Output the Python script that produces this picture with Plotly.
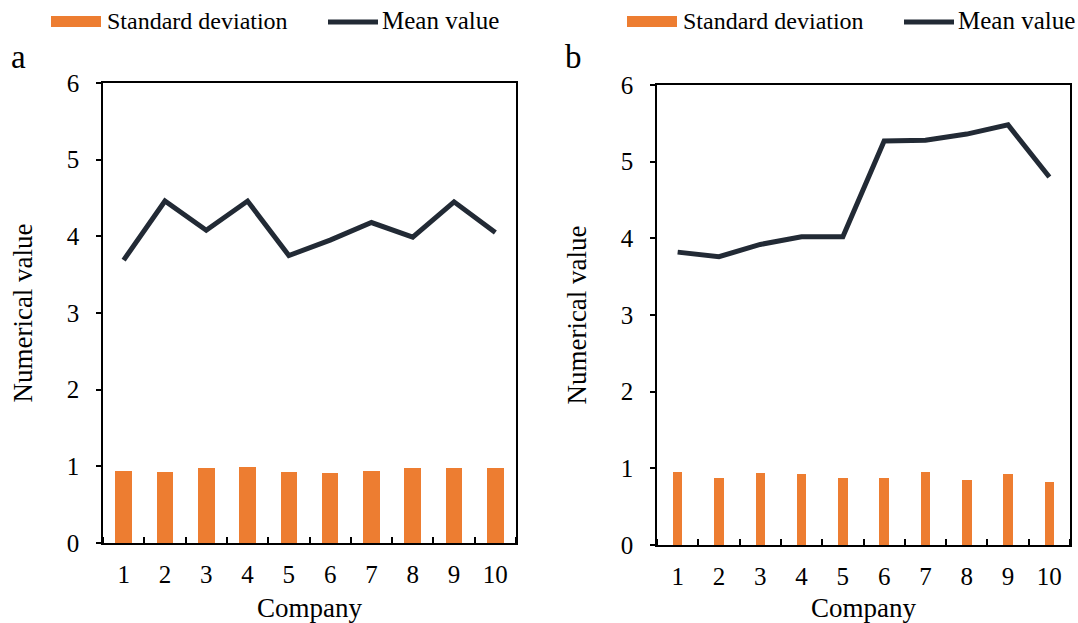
import plotly.graph_objects as go

companies = [1, 2, 3, 4, 5, 6, 7, 8, 9, 10]
tick_labels = ["1", "2", "3", "4", "5", "6", "7", "8", "9", "10"]
mean_a = [3.69, 4.46, 4.08, 4.46, 3.75, 3.95, 4.18, 3.99, 4.45, 4.05]
std_a = [0.94, 0.92, 0.98, 0.99, 0.93, 0.91, 0.94, 0.98, 0.98, 0.98]
mean_b = [3.82, 3.76, 3.92, 4.02, 4.02, 5.27, 5.28, 5.36, 5.48, 4.80]
std_b = [0.95, 0.87, 0.94, 0.92, 0.88, 0.87, 0.95, 0.85, 0.92, 0.82]

ORANGE = "#ED7D31"
NAVY = "#222A35"
FONT = "Liberation Serif"
W, H = 1078, 623

fig = go.Figure()
fig.add_trace(go.Bar(x=companies, y=std_a, width=0.4, marker_color=ORANGE,
                     marker_line_width=0, xaxis="x", yaxis="y", showlegend=False,
                     name="Standard deviation"))
fig.add_trace(go.Scatter(x=companies, y=mean_a, mode="lines",
                         line=dict(color=NAVY, width=5), xaxis="x", yaxis="y",
                         showlegend=False, name="Mean value"))
fig.add_trace(go.Bar(x=companies, y=std_b, width=0.23, marker_color=ORANGE,
                     marker_line_width=0, xaxis="x2", yaxis="y2", showlegend=False,
                     name="Standard deviation"))
fig.add_trace(go.Scatter(x=companies, y=mean_b, mode="lines",
                         line=dict(color=NAVY, width=5), xaxis="x2", yaxis="y2",
                         showlegend=False, name="Mean value"))

def px(x):
    return x / W

def py(y):
    return 1 - y / H

xcommon = dict(range=[0.5, 10.5], tickvals=companies, ticktext=tick_labels,
               ticks="", showline=True, linecolor="black", linewidth=1.5,
               mirror=True, showgrid=False, zeroline=False, automargin=False,
               ticklabelstandoff=8,
               tickfont=dict(family=FONT, size=25, color="black"),
               minor=dict(ticks="inside", tick0=0.5, dtick=1, ticklen=6,
                          tickcolor="black", tickwidth=1.5, showgrid=False),
               title=dict(text="Company", font=dict(family=FONT, size=27, color="black"), standoff=15))
ycommon = dict(range=[0, 6], dtick=1, ticks="outside", ticklen=5, tickwidth=1.5,
               tickcolor="black", showline=True, linecolor="black", linewidth=1.5,
               mirror=True, showgrid=False, zeroline=False, ticklabelstandoff=12,
               automargin=False,
               tickfont=dict(family=FONT, size=25, color="black"),
               title=dict(text="Numerical value", font=dict(family=FONT, size=27, color="black"), standoff=26))

fig.update_layout(
    width=W, height=H, margin=dict(l=0, r=0, t=0, b=0),
    plot_bgcolor="white", paper_bgcolor="white", bargap=0,
    xaxis=dict(domain=[px(103), px(516)], anchor="y", **xcommon),
    yaxis=dict(domain=[py(543), py(83)], anchor="x", **ycommon),
    xaxis2=dict(domain=[px(657), px(1070)], anchor="y2", **xcommon),
    yaxis2=dict(domain=[py(545), py(85)], anchor="x2", **ycommon),
)

shapes = []
annotations = []
for dx, lbl, lx, ly in [(0, "a", 18, 57), (576, "b", 573, 57)]:
    shapes.append(dict(type="rect", xref="paper", yref="paper",
                       x0=px(51 + dx), x1=px(101 + dx), y0=py(27), y1=py(16),
                       fillcolor=ORANGE, line_width=0))
    shapes.append(dict(type="line", xref="paper", yref="paper",
                       x0=px(328 + dx), x1=px(378 + dx), y0=py(22), y1=py(22),
                       line=dict(color=NAVY, width=5)))
    annotations.append(dict(text="Standard deviation", xref="paper", yref="paper",
                            x=px(105 + dx), y=py(21), xanchor="left", yanchor="middle",
                            showarrow=False, font=dict(family=FONT, size=24, color="black")))
    annotations.append(dict(text="Mean value", xref="paper", yref="paper",
                            x=px(380 + dx), y=py(21), xanchor="left", yanchor="middle",
                            showarrow=False, font=dict(family=FONT, size=25, color="black")))
    annotations.append(dict(text=lbl, xref="paper", yref="paper",
                            x=px(lx), y=py(ly), xanchor="center", yanchor="middle",
                            showarrow=False, font=dict(family=FONT, size=33, color="black")))

fig.update_layout(shapes=shapes, annotations=annotations)
fig.write_html("out.html", config={"displayModeBar": False},
               post_script="document.body.style.margin='0';")
